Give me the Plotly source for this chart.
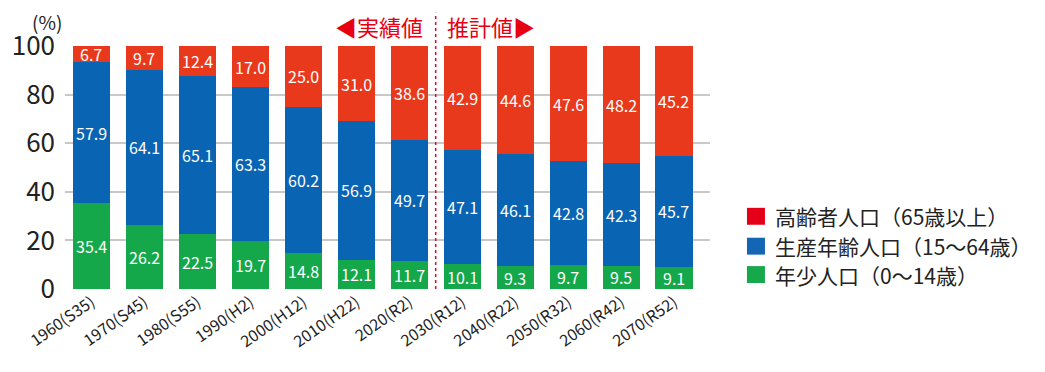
import plotly.graph_objects as go

categories = ["1960(S35)", "1970(S45)", "1980(S55)", "1990(H2)", "2000(H12)", "2010(H22)",
              "2020(R2)", "2030(R12)", "2040(R22)", "2050(R32)", "2060(R42)", "2070(R52)"]
young = [35.4, 26.2, 22.5, 19.7, 14.8, 12.1, 11.7, 10.1, 9.3, 9.7, 9.5, 9.1]
working = [57.9, 64.1, 65.1, 63.3, 60.2, 56.9, 49.7, 47.1, 46.1, 42.8, 42.3, 45.7]
elderly = [6.7, 9.7, 12.4, 17.0, 25.0, 31.0, 38.6, 42.9, 44.6, 47.6, 48.2, 45.2]
series_names = ["年少人口（0～14歳）", "生産年齢人口（15～64歳）", "高齢者人口（65歳以上）"]
y_ticks = [0, 20, 40, 60, 80, 100]

FONT = "Noto Sans CJK JP"
colors = ["#14A84A", "#0A64B4", "#E8391C"]
legend_colors = ["#16A94C", "#1466B4", "#E50019"]

fig = go.Figure()
xs = list(range(len(categories)))
base = [0.0] * len(categories)
for name, vals, col in zip(series_names, [young, working, elderly], colors):
    fig.add_trace(go.Bar(
        x=xs, y=vals, name=name, showlegend=False,
        marker=dict(color=col, line=dict(width=0)),
        hoverinfo="y+name",
    ))
    for i, v in enumerate(vals):
        fig.add_annotation(x=xs[i], y=base[i] + v / 2, xref="x", yref="y",
                           text=f"{v:.1f}", showarrow=False,
                           font=dict(color="white", size=16, family=FONT))
        base[i] += v

# custom legend (top row = elderly)
legend_rows_y = [0.0594, 0.1762, 0.2992]  # young, working, elderly
for name, col, yc in zip(series_names, legend_colors, legend_rows_y):
    fig.add_shape(type="rect", xref="paper", yref="paper", x0=1.0573, x1=1.0852,
                  y0=yc - 0.0348, y1=yc + 0.0348, fillcolor=col, line=dict(width=0))
    fig.add_annotation(xref="paper", yref="paper", x=1.0976, y=yc, xanchor="left",
                       yanchor="middle", text=name, showarrow=False,
                       font=dict(family=FONT, size=21, color="#222"))

divider = 6.5
fig.add_shape(type="line", xref="x", yref="paper", x0=divider, x1=divider, y0=0, y1=1.137,
              line=dict(color="#C8102E", width=1.5, dash="dot"), layer="above")
fig.add_annotation(xref="x", yref="paper", x=divider, y=1.084, xanchor="right", yanchor="middle",
                   xshift=-11, text="◀実績値", showarrow=False,
                   font=dict(family=FONT, size=22, color="#E60012"))
fig.add_annotation(xref="x", yref="paper", x=divider, y=1.084, xanchor="left", yanchor="middle",
                   xshift=9, text="推計値▶", showarrow=False,
                   font=dict(family=FONT, size=22, color="#E60012"))
fig.add_annotation(xref="paper", yref="paper", x=-0.002, y=1.10, xanchor="right", yanchor="middle",
                   text="(%)", showarrow=False, font=dict(family=FONT, size=19, color="#222"))

fig.update_layout(
    width=1045, height=372,
    margin=dict(l=56.5, r=343, t=37.5, b=90.5),
    barmode="stack", bargap=0.3,
    plot_bgcolor="white", paper_bgcolor="white",
    font=dict(family=FONT, color="#222"),
    showlegend=False,
    xaxis=dict(range=[-0.5, 11.68], tickmode="array",
               tickvals=xs, ticktext=categories, automargin=False,
               tickangle=-35, tickfont=dict(size=16, family=FONT, color="#222"),
               showgrid=False, zeroline=False, showline=False, ticks=""),
    yaxis=dict(range=[0, 100], tickmode="array", tickvals=y_ticks, automargin=False,
               tickfont=dict(size=26, family=FONT, color="#222"),
               showgrid=True, gridcolor="#C8C8C8", gridwidth=1.5,
               zeroline=False, showline=False, ticks="", ticklabelstandoff=9),
)

fig.write_html("out.html")
